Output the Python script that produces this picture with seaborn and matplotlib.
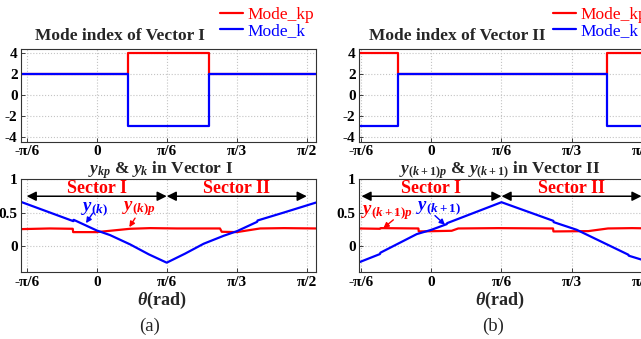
import numpy as np
import pandas as pd
import matplotlib
matplotlib.use("Agg")
import matplotlib.pyplot as plt
import seaborn as sns

# ---------------- data ----------------
PI = np.pi
xtick_vals = [-PI / 6, 0, PI / 6, PI / 3, PI / 2]
xtick_labels = ["-π/6", "0", "π/6", "π/3", "π/2"]
top_yticks = [-4, -2, 0, 2, 4]
bot_yticks = [0, 0.5, 1]
bot_ytick_labels = ["0", "0.5", "1"]

# (a) mode index, Vector I (step breakpoints)
theta_mode_a = [-0.566, 0.234, 0.840, 1.640]
mode_kp_a = [2, 4, 2, 2]
mode_k_a = [2, -3, 2, 2]

# (b) mode index, Vector II
theta_mode_b = [-0.542, -0.253, 1.313, 1.664]
mode_kp_b = [4, 2, 4, 4]
mode_k_b = [-3, 2, -3, -3]

# (a) y_k and y_kp
theta_yk_a = [-0.566, -0.175, -0.172, 0.0, 0.10, 0.25, 0.39, 0.5236,
              0.66, 0.80, 0.95, 1.05, 1.20, 1.203, 1.40, 1.640]
yk_a = [0.66, 0.37, 0.39, 0.23, 0.16, 0.02, -0.13, -0.255,
        -0.12, 0.03, 0.15, 0.22, 0.36, 0.38, 0.50, 0.65]
theta_ykp_a = [-0.566, -0.35, -0.179, -0.176, 0.0, 0.10, 0.249, 0.40,
               0.60, 0.922, 0.935, 1.047, 1.222, 1.40, 1.640]
ykp_a = [0.25, 0.26, 0.255, 0.205, 0.205, 0.225, 0.255, 0.265,
         0.26, 0.26, 0.21, 0.205, 0.26, 0.265, 0.26]

# (b) y_(k+1) and y_(k+1)p
theta_yk_b = [-0.542, -0.385, -0.382, -0.11, 0.0, 0.114, 0.117, 0.5236,
              0.911, 0.914, 1.086, 1.472, 1.475, 1.572, 1.664]
yk_b = [-0.25, -0.125, -0.105, 0.175, 0.24, 0.325, 0.34, 0.655,
        0.375, 0.355, 0.24, -0.135, -0.15, -0.21, -0.27]
theta_ykp_b = [-0.542, -0.385, -0.38, -0.098, -0.095, 0.151, 0.20, 0.50,
               0.909, 0.912, 1.173, 1.32, 1.50, 1.664]
ykp_b = [0.26, 0.255, 0.265, 0.26, 0.215, 0.225, 0.26, 0.265,
         0.26, 0.215, 0.22, 0.26, 0.265, 0.26]

RED = "#ff0000"
BLUE = "#0000ff"

# ---------------- style ----------------
sns.set_style("ticks")
plt.rcParams["font.family"] = ["Liberation Serif", "DejaVu Serif"]
plt.rcParams["mathtext.fontset"] = "custom"
plt.rcParams["mathtext.rm"] = "Liberation Serif:bold"
plt.rcParams["mathtext.it"] = "Liberation Serif:italic:bold"
plt.rcParams["mathtext.bf"] = "Liberation Serif:bold"

fig = plt.figure(figsize=(6.41, 3.39), dpi=100)
W, H = 295 / 641, 93 / 339
axA_top = fig.add_axes([21 / 641, 1 - 142 / 339, W, H])
axA_bot = fig.add_axes([21 / 641, 1 - 272.3 / 339, W, H])
axB_top = fig.add_axes([359 / 641, 1 - 142 / 339, W, H])
axB_bot = fig.add_axes([359 / 641, 1 - 272.3 / 339, W, H])

TICK_FS = 11


def style_axes(ax, xlim, ylim, yticks, ylabels=None):
    ax.set_xlim(*xlim)
    ax.set_ylim(*ylim)
    ax.set_xticks(xtick_vals)
    ax.set_xticklabels(xtick_labels, fontsize=TICK_FS, fontweight="bold")
    ax.set_yticks(yticks)
    if ylabels is None:
        ylabels = [str(v) for v in yticks]
    ax.set_yticklabels(ylabels, fontsize=TICK_FS, fontweight="bold")
    ax.tick_params(direction="in", length=3, width=0.6, pad=2.5, colors="#222222",
                   labelcolor="black")
    ax.grid(True, color="#c4c4c4", linestyle=":", linewidth=0.8)
    for s in ax.spines.values():
        s.set_visible(True)
        s.set_color("#333333")
        s.set_linewidth(0.8)
    ax.set_xlabel("")
    ax.set_ylabel("")


def mode_panel(ax, th, kp, k, xlim, title, tx, lx):
    sns.lineplot(x=th, y=kp, ax=ax, color=RED, lw=1.6, drawstyle="steps-post",
                 estimator=None, sort=False, label="Mode_kp")
    sns.lineplot(x=th, y=k, ax=ax, color=BLUE, lw=1.6, drawstyle="steps-post",
                 estimator=None, sort=False, label="Mode_k")
    style_axes(ax, xlim, (-4.48, 4.38), top_yticks)
    handles, labels = ax.get_legend_handles_labels()
    leg = ax.legend(handles, labels, loc="upper left", bbox_to_anchor=(lx, 1.45),
                    frameon=False, fontsize=12.5, borderpad=0, borderaxespad=0,
                    handlelength=1.3, handletextpad=0.25, labelspacing=0.0)
    for t, c in zip(leg.get_texts(), [RED, BLUE]):
        t.set_color(c)
    ax.text(tx, 1.14, title, transform=ax.transAxes, ha="center", va="center",
            fontsize=12.5, fontweight="bold")


def y_panel(ax, thk, yk, thp, yp, xlim, title, tx, blue_lbl, red_lbl,
            blue_txt, blue_tip, red_txt, red_tip, blue_tail, red_tail, xl, pl, tag):
    sns.lineplot(x=thp, y=yp, ax=ax, color=RED, lw=1.6, estimator=None, sort=False)
    sns.lineplot(x=thk, y=yk, ax=ax, color=BLUE, lw=1.6, estimator=None, sort=False)
    style_axes(ax, xlim, (-0.4, 1.0), bot_yticks, bot_ytick_labels)
    ax.text(tx, 1.057, title, transform=ax.transAxes, ha="center", va="baseline",
            fontsize=12.5, fontweight="bold")
    # sector arrows
    for a, b in [(-PI / 6, PI / 6), (PI / 6, PI / 2)]:
        ax.annotate("", xy=(b, 0.745), xytext=(a, 0.745),
                    arrowprops=dict(arrowstyle="<|-|>", color="black", lw=1.1,
                                    mutation_scale=14, shrinkA=0, shrinkB=0))
    ax.text(0, 0.86, "Sector I", color=RED, fontsize=13, fontweight="bold",
            ha="center", va="center")
    ax.text(PI / 3, 0.86, "Sector II", color=RED, fontsize=13, fontweight="bold",
            ha="center", va="center")
    # curve labels
    ax.text(blue_txt[0], blue_txt[1], blue_lbl, color=BLUE, fontsize=13.5,
            ha="center", va="center")
    ax.text(red_txt[0], red_txt[1], red_lbl, color=RED, fontsize=13.5,
            ha="center", va="center")
    ax.annotate("", xy=blue_tip, xytext=blue_tail,
                arrowprops=dict(arrowstyle="-|>", color=BLUE, lw=1.0,
                                mutation_scale=8, shrinkA=0, shrinkB=0))
    ax.annotate("", xy=red_tip, xytext=red_tail,
                arrowprops=dict(arrowstyle="-|>", color=RED, lw=1.0,
                                mutation_scale=8, shrinkA=0, shrinkB=0))
    ax.text(xl, -0.30, r"$\theta$(rad)", transform=ax.transAxes, ha="center",
            va="center", fontsize=13, fontweight="bold")
    ax.text(pl, -0.58, tag, transform=ax.transAxes, ha="center", va="center",
            fontsize=13.5)


mode_panel(axA_top, theta_mode_a, mode_kp_a, mode_k_a, (-0.566, 1.640),
           "Mode index of Vector I", 0.336, 0.675)
mode_panel(axB_top, theta_mode_b, mode_kp_b, mode_k_b, (-0.542, 1.664),
           "Mode index of Vector II", 0.332, 0.658)

y_panel(axA_bot, theta_yk_a, yk_a, theta_ykp_a, ykp_a, (-0.566, 1.640),
        r"$y_{kp}$ & $y_k$ in Vector I", 0.473,
        r"$y_{(k)}$", r"$y_{(k)p}$",
        (-0.02, 0.555), (-0.080, 0.34), (0.313, 0.555), (0.244, 0.28),
        (-0.030, 0.49), (0.287, 0.415), 0.478, 0.437, "(a)")
y_panel(axB_bot, theta_yk_b, yk_b, theta_ykp_b, ykp_b, (-0.542, 1.664),
        r"$y_{(k+1)p}$ & $y_{(k+1)}$ in Vector II", 0.478,
        r"$y_{(k+1)}$", r"$y_{(k+1)p}$",
        (0.049, 0.57), (0.101, 0.315), (-0.335, 0.50), (-0.360, 0.265),
        (0.026, 0.454), (-0.285, 0.39), 0.478, 0.454, "(b)")

fig.savefig("out.png", dpi=100)
